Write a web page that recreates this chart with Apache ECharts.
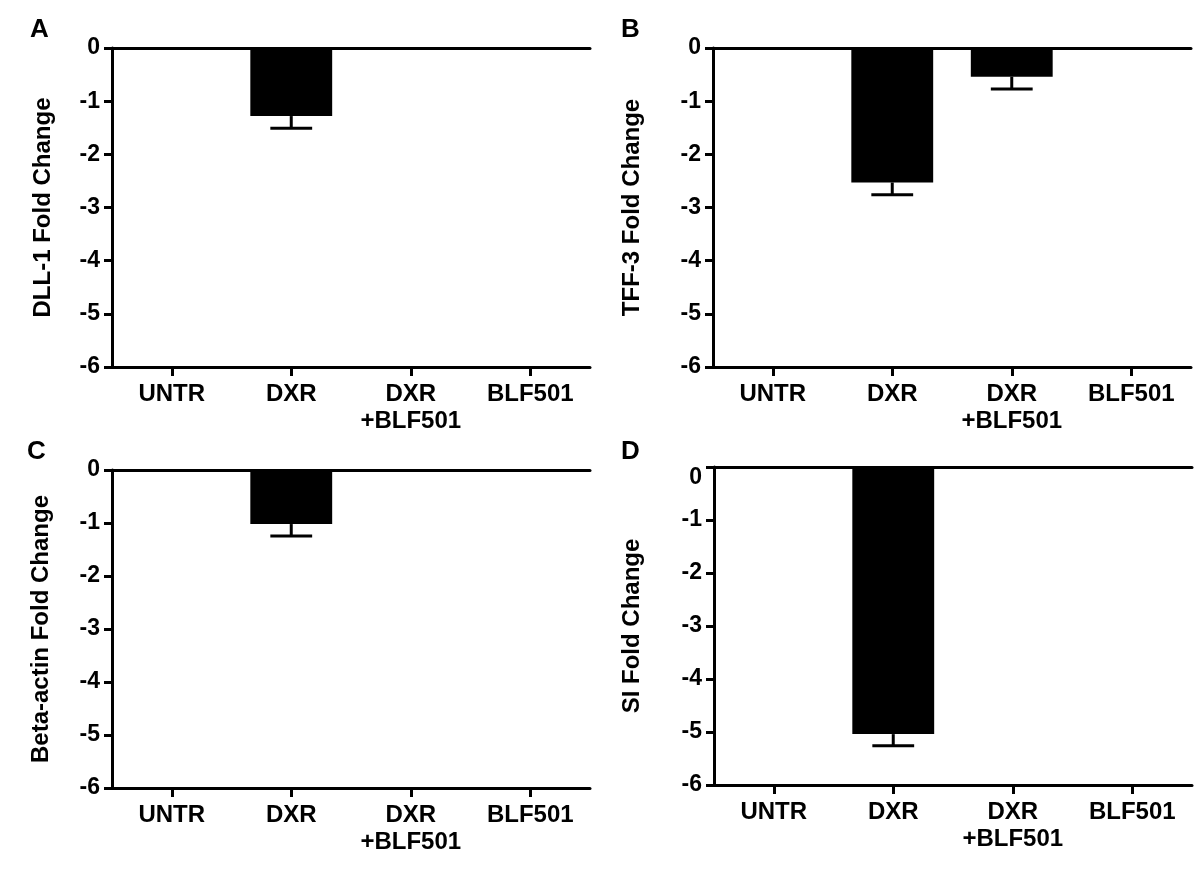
<!DOCTYPE html>
<html>
<head>
<meta charset="utf-8">
<script src="https://cdn.jsdelivr.net/npm/echarts@6/dist/echarts.min.js"></script>
<style>
html,body{margin:0;padding:0;background:#fff;}
#chart{width:1200px;height:871px;}
</style>
</head>
<body>
<div id="chart"></div>
<script>
// ---- data ----
const categories = ['UNTR', 'DXR', 'DXR\n+BLF501', 'BLF501'];
const yTicks = [0, -1, -2, -3, -4, -5, -6];
const dll1Mean = [0, -1.28, 0, 0];
const dll1Err  = [0, 0.23, 0, 0];
const tff3Mean = [0, -2.53, -0.54, 0];
const tff3Err  = [0, 0.23, 0.23, 0];
const betaMean = [0, -1.02, 0, 0];
const betaErr  = [0, 0.225, 0, 0];
const siMean   = [0, -5.04, 0, 0];
const siErr    = [0, 0.22, 0, 0];

const panels = [
  {letter: 'A', title: 'DLL-1 Fold Change', mean: dll1Mean, err: dll1Err},
  {letter: 'B', title: 'TFF-3 Fold Change', mean: tff3Mean, err: tff3Err},
  {letter: 'C', title: 'Beta-actin Fold Change', mean: betaMean, err: betaErr},
  {letter: 'D', title: 'SI Fold Change', mean: siMean, err: siErr}
];

// ---- layout ----
const FONT = "'Liberation Sans', Arial, Helvetica, sans-serif";
const layout = [
  {left: 112, top: 48, height: 319, gap: 57, lx: 40, ly: 31},
  {left: 713, top: 48, height: 319, gap: 69, lx: 631, ly: 31},
  {left: 112, top: 470, height: 318, gap: 59, lx: 37, ly: 453},
  {left: 714, top: 467, height: 318, gap: 70, lx: 631, ly: 453}
];
const W = 478;

const grids = [], xAxes = [], yAxes = [], series = [], graphics = [];
panels.forEach((p, i) => {
  const L = layout[i];
  grids.push({left: L.left, top: L.top, width: W, height: L.height, outerBoundsMode: 'none', containLabel: false});
  // bottom category axis at -6
  xAxes.push({
    type: 'category', gridIndex: i, data: categories, position: 'bottom',
    axisLine: {onZero: false, lineStyle: {color: '#000', width: 3}},
    axisTick: {show: true, alignWithLabel: true, length: 9, lineStyle: {color: '#000', width: 3}},
    axisLabel: {color: '#000', fontFamily: FONT, fontWeight: 'bold', fontSize: 24, lineHeight: 27, margin: 14, interval: 0},
    splitLine: {show: false}
  });
  // top line at 0
  xAxes.push({
    type: 'category', gridIndex: i, data: categories, position: 'top',
    axisLine: {onZero: false, lineStyle: {color: '#000', width: 3}},
    axisTick: {show: false}, axisLabel: {show: false}, splitLine: {show: false}
  });
  yAxes.push({
    type: 'value', gridIndex: i, min: -6, max: 0, interval: 1,
    name: p.title, nameLocation: 'middle', nameGap: L.gap,
    nameTextStyle: {color: '#000', fontFamily: FONT, fontWeight: 'bold', fontSize: 24},
    axisLine: {show: true, onZero: false, lineStyle: {color: '#000', width: 3}},
    axisTick: {show: true, length: 8, lineStyle: {color: '#000', width: 3}},
    axisLabel: {
      color: '#000', fontFamily: FONT, fontWeight: 'bold', fontSize: 23, margin: 12,
      formatter: (v) => (i === 3 && v === 0) ? '{z|0}' : String(v),
      rich: {z: {fontFamily: FONT, fontWeight: 'bold', fontSize: 23, padding: [22, 0, 0, 0]}}
    },
    splitLine: {show: false}
  });
  series.push({
    type: 'bar', xAxisIndex: 2 * i, yAxisIndex: i,
    data: p.mean, barWidth: '68.5%',
    itemStyle: {color: '#000'}, silent: true
  });
  series.push({
    type: 'custom', xAxisIndex: 2 * i, yAxisIndex: i,
    data: p.mean.map((m, k) => [k, m, p.err[k]]),
    encode: {x: 0, y: 1},
    z: 5,
    renderItem: function (params, api) {
      const k = api.value(0), m = api.value(1), e = api.value(2);
      if (!e) return null;
      const a = api.coord([k, m]);
      const b = api.coord([k, m - e]);
      const half = api.size([1, 0])[0] * 0.175;
      const st = {stroke: '#000', lineWidth: 3};
      return {
        type: 'group',
        children: [
          {type: 'line', shape: {x1: a[0], y1: a[1], x2: b[0], y2: b[1]}, style: st},
          {type: 'line', shape: {x1: b[0] - half, y1: b[1], x2: b[0] + half, y2: b[1]}, style: st}
        ]
      };
    }
  });
  graphics.push({
    type: 'text', left: L.lx - 10, top: L.ly - 14,
    style: {text: p.letter, fill: '#000', font: 'bold 26px ' + FONT}
  });
});

const chart = echarts.init(document.getElementById('chart'), null, {renderer: 'canvas'});
chart.setOption({
  animation: false,
  backgroundColor: '#fff',
  grid: grids,
  xAxis: xAxes,
  yAxis: yAxes,
  series: series,
  graphic: graphics
});
</script>
</body>
</html>
